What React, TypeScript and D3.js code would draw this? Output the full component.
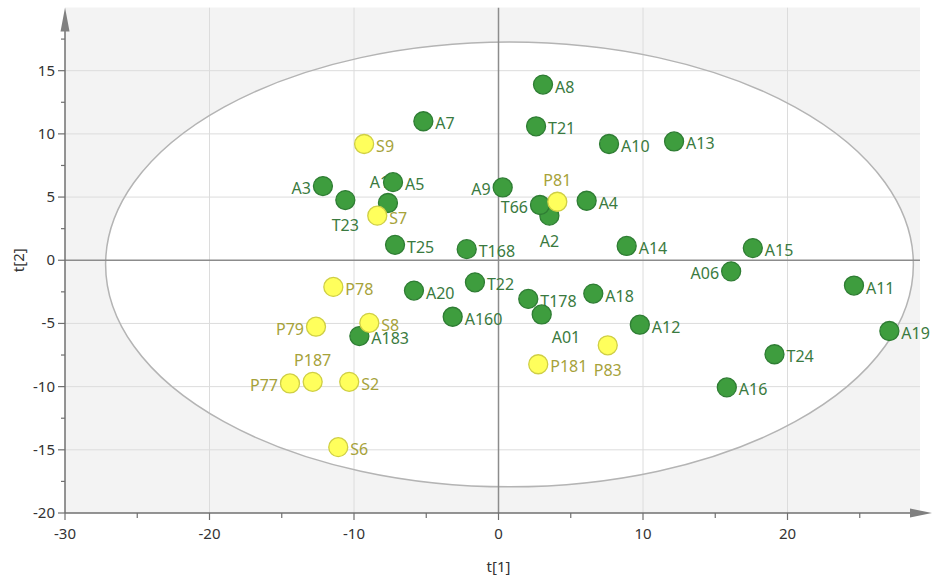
import React from "react";
import * as d3 from "d3";

const sampleNames = [
  "A8", "T21", "A7", "A10", "A13", "A3", "T23", "A17", "A5", "T25",
  "A9", "A2", "T66", "A4", "T168", "A14", "A15", "A06", "A11", "A19",
  "T24", "A16", "A12", "A18", "T178", "A01", "T22", "A20", "A160", "A183",
  "S9", "S7", "P81", "P181", "P83", "P78", "P79", "S8", "P187", "P77", "S2", "S6",
];
const t1Values = [
  3.08, 2.6, -5.2, 7.65, 12.15, -12.15, -10.6, -7.65, -7.3, -7.16,
  0.29, 3.52, 2.87, 6.1, -2.2, 8.87, 17.6, 16.1, 24.6, 27.05,
  19.1, 15.8, 9.78, 6.56, 2.06, 2.99, -1.63, -5.85, -3.17, -9.63,
  -9.3, -8.39, 4.07, 2.75, 7.56, -11.43, -12.63, -8.94, -12.86, -14.43, -10.33, -11.09,
];
const t2Values = [
  13.9, 10.6, 11.0, 9.2, 9.4, 5.87, 4.76, 4.53, 6.18, 1.22,
  5.76, 3.53, 4.37, 4.71, 0.88, 1.13, 0.96, -0.88, -2.0, -5.6,
  -7.44, -10.06, -5.1, -2.64, -3.06, -4.29, -1.75, -2.4, -4.47, -6.0,
  9.2, 3.53, 4.63, -8.23, -6.73, -2.11, -5.26, -4.95, -9.62, -9.75, -9.62, -14.79,
];
const sampleGroups = [
  "g", "g", "g", "g", "g", "g", "g", "g", "g", "g",
  "g", "g", "g", "g", "g", "g", "g", "g", "g", "g",
  "g", "g", "g", "g", "g", "g", "g", "g", "g", "g",
  "y", "y", "y", "y", "y", "y", "y", "y", "y", "y", "y", "y",
];
// label side relative to point: r=right, l=left, t=top, tl=top (nudged left), b=bottom, br=bottom-right
const labelSides = [
  "r", "r", "r", "r", "r", "l", "b", "tl", "r", "r",
  "l", "b", "l", "r", "r", "r", "r", "l", "r", "r",
  "r", "r", "r", "r", "r", "br", "r", "r", "r", "r",
  "r", "r", "t", "r", "b", "r", "l", "r", "t", "l", "r", "r",
];

const xMajorTicks = [-30, -20, -10, 0, 10, 20];
const xMinorTicks = [-25, -15, -5, 5, 15, 25];
const yMajorTicks = [-20, -15, -10, -5, 0, 5, 10, 15];
const yMinorTicks = [-17.5, -12.5, -7.5, -2.5, 2.5, 7.5, 12.5, 17.5];
const ellipseCenter = [0.76, -0.33];
const ellipseRadii = [27.95, 17.6];

const W = 933;
const H = 582;
const left = 65;
const right = 932;
const top = 7.5;
const bottom = 513;

export default function App() {
  const x = d3.scaleLinear().domain([-30, 30]).range([left, right]);
  const y = d3.scaleLinear().domain([-20, 20]).range([bottom, top]);
  const bgRight = 920;
  const font = "'Noto Sans', 'Open Sans', sans-serif";

  const cx = x(ellipseCenter[0]);
  const cy = y(ellipseCenter[1]);
  const rx = x(ellipseRadii[0]) - x(0);
  const ry = y(0) - y(ellipseRadii[1]);

  const labelPos = (side: string, px: number, py: number) => {
    switch (side) {
      case "l":
        return { x: px - 12, y: py + 2, anchor: "end" };
      case "t":
        return { x: px, y: py - 22, anchor: "middle" };
      case "tl":
        return { x: px - 4, y: py - 21, anchor: "middle" };
      case "b":
        return { x: px, y: py + 25, anchor: "middle" };
      case "br":
        return { x: px + 10, y: py + 23, anchor: "start" };
      default:
        return { x: px + 12, y: py + 2, anchor: "start" };
    }
  };

  const pts = sampleNames.map((n, i) => ({
    name: n,
    px: x(t1Values[i]),
    py: y(t2Values[i]),
    g: sampleGroups[i],
    side: labelSides[i],
  }));

  return (
    <svg
      width={W}
      height={H}
      style={{ position: "absolute", left: 0, top: 0, background: "#fff" }}
      fontFamily={font}
    >
      <defs>
        <clipPath id="plotclip">
          <rect x={left} y={top} width={bgRight - left} height={bottom - top} />
        </clipPath>
      </defs>
      <rect x={left} y={top} width={bgRight - left} height={bottom - top} fill="#f3f3f3" />
      <g clipPath="url(#plotclip)">
        <ellipse cx={cx} cy={cy} rx={rx} ry={ry} fill="#ffffff" />
        {yMajorTicks
          .filter((v) => v !== 0 && v !== -20)
          .map((v) => (
            <line key={"gy" + v} x1={left} x2={bgRight} y1={y(v)} y2={y(v)} stroke="#dcdcdc" strokeWidth={1} />
          ))}
        {xMajorTicks
          .filter((v) => v !== 0 && v !== -30)
          .map((v) => (
            <line key={"gx" + v} x1={x(v)} x2={x(v)} y1={top} y2={bottom} stroke="#dcdcdc" strokeWidth={1} />
          ))}
        <ellipse cx={cx} cy={cy} rx={rx} ry={ry} fill="none" stroke="#b4b4b4" strokeWidth={1.5} />
        <line x1={left} x2={bgRight} y1={y(0)} y2={y(0)} stroke="#8c8c8c" strokeWidth={1.5} />
        <line x1={x(0)} x2={x(0)} y1={top} y2={bottom} stroke="#8c8c8c" strokeWidth={1.5} />
      </g>

      {/* axes */}
      <line x1={left} x2={right - 18} y1={bottom} y2={bottom} stroke="#707070" strokeWidth={1.5} />
      <path d={`M${right},${bottom} L${right - 22},${bottom - 4.5} L${right - 22},${bottom + 4.5} Z`} fill="#808080" />
      <line x1={left} x2={left} y1={bottom} y2={top + 20} stroke="#707070" strokeWidth={1.5} />
      <path d={`M${left},${top} L${left - 4.5},${top + 24} L${left + 4.5},${top + 24} Z`} fill="#808080" />

      {xMajorTicks.map((v) => (
        <g key={"xt" + v}>
          <line x1={x(v)} x2={x(v)} y1={bottom} y2={bottom + 7} stroke="#707070" strokeWidth={1.2} />
          <text x={x(v)} y={bottom + 26} textAnchor="middle" fontSize={15} fill="#333">
            {v}
          </text>
        </g>
      ))}
      {xMinorTicks.map((v) => (
        <line key={"xm" + v} x1={x(v)} x2={x(v)} y1={bottom} y2={bottom + 5} stroke="#707070" strokeWidth={1.2} />
      ))}
      {yMajorTicks.map((v) => (
        <g key={"yt" + v}>
          <line x1={left - 7} x2={left} y1={y(v)} y2={y(v)} stroke="#707070" strokeWidth={1.2} />
          <text x={left - 10} y={y(v) + 5} textAnchor="end" fontSize={15} fill="#333">
            {v}
          </text>
        </g>
      ))}
      {yMinorTicks.map((v) => (
        <line key={"ym" + v} x1={left - 4} x2={left} y1={y(v)} y2={y(v)} stroke="#707070" strokeWidth={1.2} />
      ))}
      <text x={x(0)} y={572} textAnchor="middle" fontSize={15} fill="#333">
        t[1]
      </text>
      <text transform={`translate(24,${y(0)}) rotate(-90)`} textAnchor="middle" fontSize={15} fill="#333">
        t[2]
      </text>

      {/* labels */}
      {pts.map((p) => {
        const l = labelPos(p.side, p.px, p.py);
        return (
          <text
            key={"l" + p.name}
            x={l.x}
            y={l.y}
            textAnchor={l.anchor as any}
            dominantBaseline="central"
            fontSize={16}
            fill={p.g === "g" ? "#3a7a40" : "#a6a23a"}
          >
            {p.name}
          </text>
        );
      })}
      {/* points */}
      {pts.map((p) => (
        <circle
          key={"c" + p.name}
          cx={p.px}
          cy={p.py}
          r={9.5}
          fill={p.g === "g" ? "#3e9d3e" : "#ffff5c"}
          stroke={p.g === "g" ? "#2f7d34" : "#cfcf45"}
          strokeWidth={1.3}
        />
      ))}
    </svg>
  );
}
